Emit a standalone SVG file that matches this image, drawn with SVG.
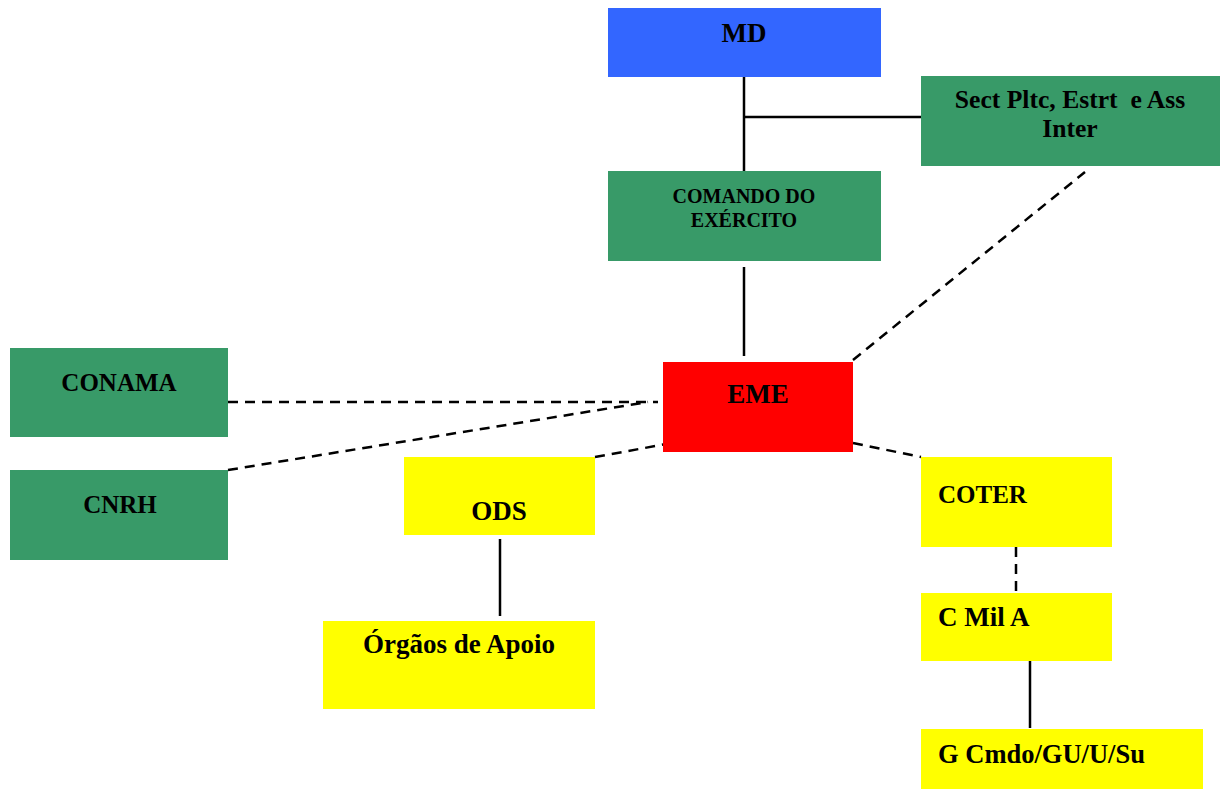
<svg xmlns="http://www.w3.org/2000/svg" width="1225" height="789" viewBox="0 0 1225 789">
<style>
text{font-family:"Liberation Serif","Times New Roman",serif;font-weight:bold;fill:#000;font-size:25px}
.c{text-anchor:middle}
.s{font-size:20px}
.l{font-size:27px}
.blue{fill:#3366FF}.green{fill:#389A68}.red{fill:#FF0000}.yel{fill:#FFFF00}
.solid{stroke:#000;stroke-width:2.5;fill:none}
.dash{stroke:#000;stroke-width:2.5;fill:none;stroke-dasharray:10 7}
</style>
<rect width="1225" height="789" fill="#fff"/>
<g id="connectors">
<line class="solid" x1="744" y1="77" x2="744" y2="171"/>
<line class="solid" x1="744" y1="117" x2="921" y2="117"/>
<line class="solid" x1="744" y1="267" x2="744" y2="356"/>
<line class="dash" x1="853" y1="360" x2="1085" y2="172"/>
<line class="dash" x1="228" y1="402" x2="658" y2="402"/>
<line class="dash" x1="228" y1="470" x2="648" y2="402"/>
<line class="dash" x1="595" y1="457" x2="672" y2="443"/>
<line class="dash" x1="853" y1="443" x2="921" y2="457"/>
<line class="dash" x1="1016" y1="547" x2="1016" y2="593"/>
<line class="solid" x1="500" y1="539" x2="500" y2="616"/>
<line class="solid" x1="1030" y1="661" x2="1030" y2="728"/>
</g>
<g id="md"><rect class="blue" x="608" y="8" width="273" height="69"/><text class="c l" x="744" y="42">MD</text></g>
<g id="sect"><rect class="green" x="921" y="76" width="299" height="90"/><text class="c" style="font-size:25.6px" x="1070" y="108" xml:space="preserve">Sect Pltc, Estrt  e Ass</text><text class="c" style="font-size:25.6px" x="1070" y="137">Inter</text></g>
<g id="comando"><rect class="green" x="608" y="171" width="273" height="90"/><text class="c s" x="744" y="203">COMANDO DO</text><text class="c s" x="744" y="227">EXÉRCITO</text></g>
<g id="conama"><rect class="green" x="10" y="348" width="218" height="89"/><text class="c" x="119" y="391">CONAMA</text></g>
<g id="cnrh"><rect class="green" x="10" y="470" width="218" height="90"/><text class="c" x="120" y="513">CNRH</text></g>
<g id="eme"><rect class="red" x="663" y="362" width="190" height="90"/><text class="c l" x="758" y="403">EME</text></g>
<g id="ods"><rect class="yel" x="404" y="457" width="191" height="78"/><text class="c l" x="499" y="520">ODS</text></g>
<g id="orgaos"><rect class="yel" x="323" y="621" width="272" height="88"/><text class="c l" x="459" y="653">Órgãos de Apoio</text></g>
<g id="coter"><rect class="yel" x="921" y="457" width="191" height="90"/><text x="938" y="503">COTER</text></g>
<g id="cmila"><rect class="yel" x="921" y="593" width="191" height="68"/><text class="l" x="938" y="626">C Mil A</text></g>
<g id="gcmdo"><rect class="yel" x="921" y="729" width="282" height="60"/><text style="font-size:26.5px" x="938" y="763">G Cmdo/GU/U/Su</text></g>
</svg>
